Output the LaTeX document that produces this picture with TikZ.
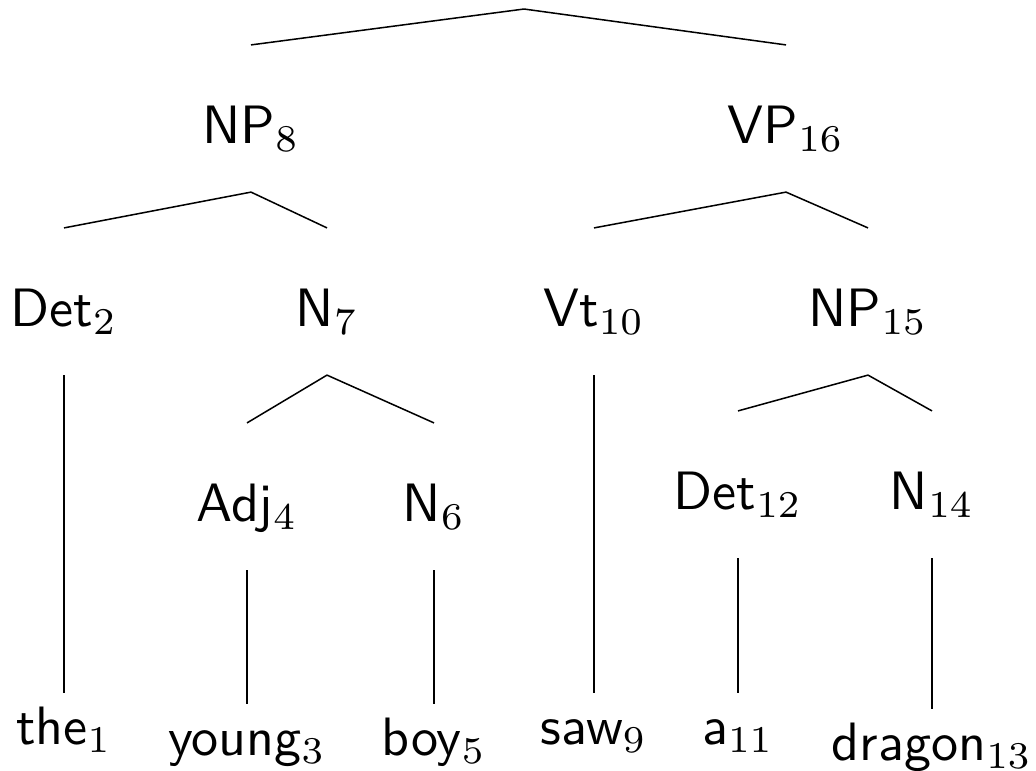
\documentclass[tikz,border=0pt]{standalone}
\begin{document}
\begin{tikzpicture}[x=0.185pt,y=-0.185pt]
\tikzset{
  inner/.style={anchor=base, inner sep=0pt, text height=17.95pt, text depth=8.88pt, font=\sffamily},
  leaf/.style={anchor=north, inner sep=0pt, text height=9.25pt, text depth=2pt, font=\sffamily},
  branch/.style={line width=0.28pt}
}
\useasboundingbox (0,0) rectangle (1036,770);
\coordinate (root) at (524,9);
\node[inner] (NP8) at (251,143) {NP$_{8}$};
\node[inner] (VP16) at (786,143) {VP$_{16}$};
\node[inner] (Det2) at (64,326) {Det$_{2}$};
\node[inner] (N7) at (327,326) {N$_{7}$};
\node[inner] (Vt10) at (594,326) {Vt$_{10}$};
\node[inner] (NP15) at (868,326) {NP$_{15}$};
\node[inner] (Adj4) at (247,521) {Adj$_{4}$};
\node[inner] (N6) at (434,521) {N$_{6}$};
\node[inner] (Det12) at (738,509) {Det$_{12}$};
\node[inner] (N14) at (932,509) {N$_{14}$};
\node[leaf] (the1) at (64,693) {the$_{1}$};
\node[leaf] (young3) at (247,704) {young$_{3}$};
\node[leaf] (boy5) at (434,704) {boy$_{5}$};
\node[leaf] (saw9) at (594,693) {saw$_{9}$};
\node[leaf] (a11) at (738,693) {a$_{11}$};
\node[leaf] (dragon13) at (932,709) {dragon$_{13}$};
\draw[branch] (NP8.north) -- (root) -- (VP16.north);
\draw[branch] (Det2.north) -- (NP8.south) -- (N7.north);
\draw[branch] (Vt10.north) -- (VP16.south) -- (NP15.north);
\draw[branch] (Adj4.north) -- (N7.south) -- (N6.north);
\draw[branch] (Det12.north) -- (NP15.south) -- (N14.north);
\draw[branch] (Det2.south) -- (the1.north);
\draw[branch] (Adj4.south) -- (young3.north);
\draw[branch] (N6.south) -- (boy5.north);
\draw[branch] (Vt10.south) -- (saw9.north);
\draw[branch] (Det12.south) -- (a11.north);
\draw[branch] (N14.south) -- (dragon13.north);
\end{tikzpicture}
\end{document}
